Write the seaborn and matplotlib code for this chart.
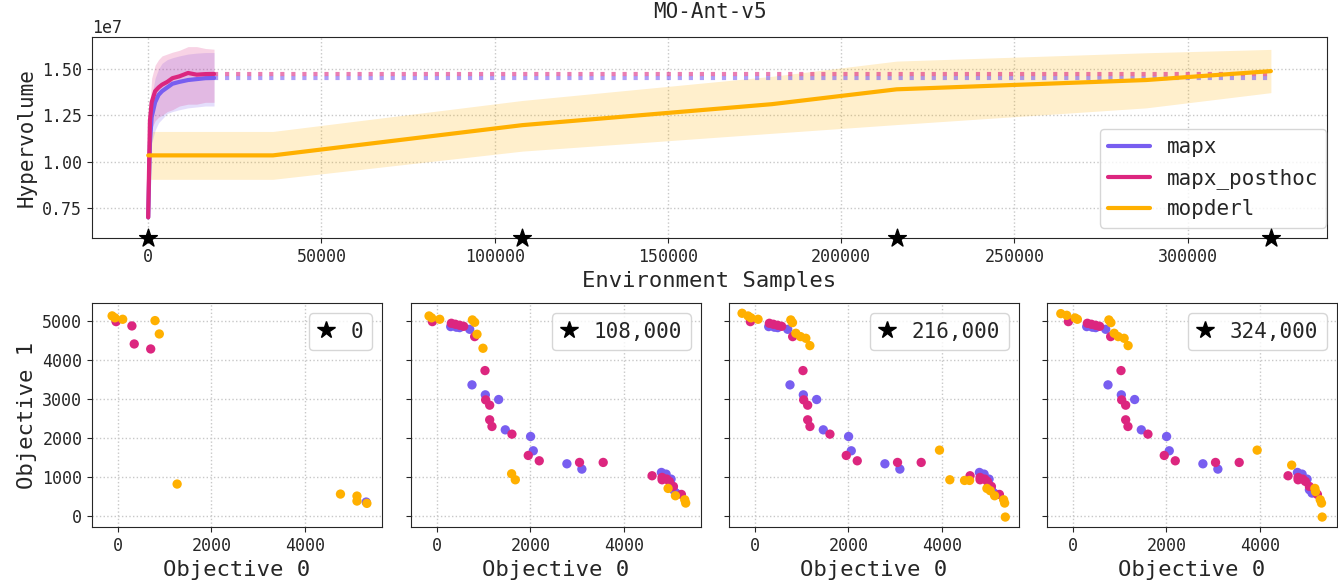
import numpy as np
import pandas as pd
import matplotlib
matplotlib.use("Agg")
import matplotlib.pyplot as plt
import seaborn as sns
from matplotlib.lines import Line2D

sns.set_style("ticks")
plt.rcParams['font.family'] = ['DejaVu Sans Mono', 'DejaVu Sans']

# couleurs des algos
algos = ['mapx', 'mapx_posthoc', 'mopderl']
palette = {'mapx': '#785EF0', 'mapx_posthoc': '#DC267F', 'mopderl': '#FFB000'}

### Hypervolume (x1e7)
mapx_steps = [0, 500, 1000, 2000, 3000, 4000, 5500, 7000, 9000, 11500, 14000, 16500, 19000]
mapx_mean = [0.70, 1.10, 1.24, 1.32, 1.36, 1.38, 1.40, 1.42, 1.43, 1.44, 1.445, 1.45, 1.451]
mapx_low = [0.68, 0.95, 1.10, 1.17, 1.21, 1.23, 1.26, 1.27, 1.28, 1.29, 1.295, 1.30, 1.30]
mapx_high = [0.72, 1.20, 1.35, 1.45, 1.50, 1.53, 1.55, 1.56, 1.57, 1.58, 1.585, 1.588, 1.588]

posthoc_mean = [0.70, 1.22, 1.32, 1.38, 1.40, 1.415, 1.43, 1.45, 1.46, 1.478, 1.469, 1.472, 1.473]
posthoc_low = [0.68, 1.10, 1.18, 1.22, 1.24, 1.25, 1.27, 1.28, 1.30, 1.31, 1.31, 1.32, 1.32]
posthoc_high = [0.72, 1.30, 1.45, 1.52, 1.55, 1.57, 1.58, 1.59, 1.60, 1.62, 1.62, 1.61, 1.606]

mopderl_steps = [0, 36000, 108000, 180000, 216000, 288000, 324000]
mopderl_mean = [1.034, 1.034, 1.197, 1.31, 1.39, 1.44, 1.488]
mopderl_low = [0.905, 0.905, 1.057, 1.153, 1.20, 1.29, 1.372]
mopderl_high = [1.163, 1.163, 1.33, 1.46, 1.542, 1.587, 1.605]

star_steps = [0, 108000, 216000, 324000]
hv_ticks = [0.75e7, 1.00e7, 1.25e7, 1.50e7]

### Fronts de Pareto
mapx_front0_x = [5312]
mapx_front0_y = [351]
posthoc_front0_x = [-35, 303, 353, 705]
posthoc_front0_y = [4983, 4872, 4409, 4281]

mapx_front_x = [299, 420, 491, 705, 754, 1039, 1324, 1466, 2007, 2064, 2783, 3103,
                4804, 4904, 5010, 5060, 5117]
mapx_front_y = [4855, 4840, 4829, 4786, 3359, 3103, 2983, 2205, 2034, 1667, 1333, 1197,
                1111, 1068, 940, 667, 581]
posthoc_front_x = [-93, 313, 399, 491, 576, 811, 1032, 1046, 1132, 1132, 1181, 1608,
                   1957, 2192, 3053, 3559, 4604, 4818, 4818, 4918, 4975, 5060, 5231]
posthoc_front_y = [4983, 4940, 4915, 4889, 4862, 4598, 3726, 2974, 2838, 2462, 2291, 2094,
                   1547, 1410, 1368, 1368, 1026, 983, 923, 940, 880, 752, 547]

mopderl_front_x = [
    [-120, -60, 106, 797, 889, 1270, 4762, 5115, 5115, 5327],
    [-164, -110, 64, 762, 811, 861, 989, 1601, 1680, 4946, 5103, 5302, 5323],
    [-271, -143, -80, 71, 771, 807, 879, 979, 1093, 1179, 3950, 4171, 4486, 4593,
     4964, 5036, 5129, 5321, 5343, 5357],
    [-255, -128, 50, 99, 773, 816, 887, 972, 1099, 1184, 3943, 4681, 5177, 5191,
     5291, 5319, 5333],
]
mopderl_front_y = [
    [5130, 5080, 5043, 5009, 4666, 813, 556, 505, 377, 317],
    [5128, 5080, 5043, 5026, 4966, 4658, 4299, 1077, 923, 701, 513, 410, 325],
    [5197, 5128, 5080, 5043, 5026, 4957, 4684, 4598, 4555, 4367, 1684, 923, 906, 906,
     701, 641, 513, 410, 325, -34],
    [5188, 5145, 5077, 5043, 5026, 4957, 4684, 4598, 4555, 4367, 1684, 1299, 701, 620,
     410, 325, -34],
]

fig = plt.figure(figsize=(13.38, 5.85), dpi=100)
grid_kw = dict(linestyle=':', color='#c8c8c8', linewidth=1)

# ---- courbe hypervolume
ax = fig.add_axes([0.0688, 0.5932, 0.923, 0.3436])
curves = {
    'mapx': (mapx_steps, mapx_mean, mapx_low, mapx_high),
    'mapx_posthoc': (mapx_steps, posthoc_mean, posthoc_low, posthoc_high),
    'mopderl': (mopderl_steps, mopderl_mean, mopderl_low, mopderl_high),
}
rows = []
for algo, (st, m, lo, hi) in curves.items():
    for s, v in zip(st, m):
        rows.append({'step': s, 'hv': v * 1e7, 'algo': algo})
df_hv = pd.DataFrame(rows)

for algo, (st, m, lo, hi) in curves.items():
    ax.fill_between(st, np.array(lo) * 1e7, np.array(hi) * 1e7,
                    color=palette[algo], alpha=0.2, linewidth=0)
    if algo != 'mopderl':
        ax.plot([st[-1], star_steps[-1]], [m[-1] * 1e7, m[-1] * 1e7], ls=':',
                lw=3, color=palette[algo], alpha=0.6)

sns.lineplot(data=df_hv, x='step', y='hv', hue='algo', hue_order=algos,
             palette=palette, linewidth=3, estimator=None, sort=False, ax=ax)

ymin = 0.589e7
ax.set_ylim(ymin, 1.672e7)
ax.set_yticks(hv_ticks)
ax.scatter(star_steps, [ymin] * len(star_steps), marker='*', s=180, color='black',
           clip_on=False, zorder=10)
ax.grid(True, **grid_kw)
ax.set_title('MO-Ant-v5', fontsize=15, pad=14)
ax.set_xlabel('Environment Samples', fontsize=16)
ax.set_ylabel('Hypervolume', fontsize=15)
ax.tick_params(labelsize=12)
ax.yaxis.get_offset_text().set_fontsize(12)
ax.legend(title=None, loc='lower right', bbox_to_anchor=(1.008, 0.0), fontsize=15,
          handlelength=2)

# ---- fronts
lefts = [92, 411, 729, 1047]
axes = []
for i, left in enumerate(lefts):
    a = fig.add_axes([left / 1338, 0.0991, 290 / 1338, 0.3829],
                     sharey=axes[0] if axes else None)
    axes.append(a)
    if i == 0:
        fx = [mapx_front0_x, posthoc_front0_x, mopderl_front_x[0]]
        fy = [mapx_front0_y, posthoc_front0_y, mopderl_front_y[0]]
    else:
        fx = [mapx_front_x, posthoc_front_x, mopderl_front_x[i]]
        fy = [mapx_front_y, posthoc_front_y, mopderl_front_y[i]]
    pts = []
    for algo, xs, ys in zip(algos, fx, fy):
        for x, y in zip(xs, ys):
            pts.append({'obj0': x, 'obj1': y, 'algo': algo})
    df_f = pd.DataFrame(pts)
    sns.scatterplot(data=df_f, x='obj0', y='obj1', hue='algo', hue_order=algos,
                    palette=palette, s=45, linewidth=0, legend=False, ax=a)
    a.set_xlim(-550, 5650)
    a.set_ylim(-290, 5460)
    a.set_xticks([0, 2000, 4000])
    a.set_yticks([0, 1000, 2000, 3000, 4000, 5000])
    a.grid(True, **grid_kw)
    a.tick_params(labelsize=12)
    a.set_xlabel('Objective 0', fontsize=16)
    if i == 0:
        a.set_ylabel('Objective 1', fontsize=16)
    else:
        a.set_ylabel('')
        a.tick_params(labelleft=False)
    h = Line2D([], [], marker='*', color='black', linestyle='none', markersize=13)
    a.legend([h], [f"{star_steps[i]:,}"], loc='upper right', fontsize=15,
             handlelength=0.8)

fig.savefig('out.png', dpi=100)
